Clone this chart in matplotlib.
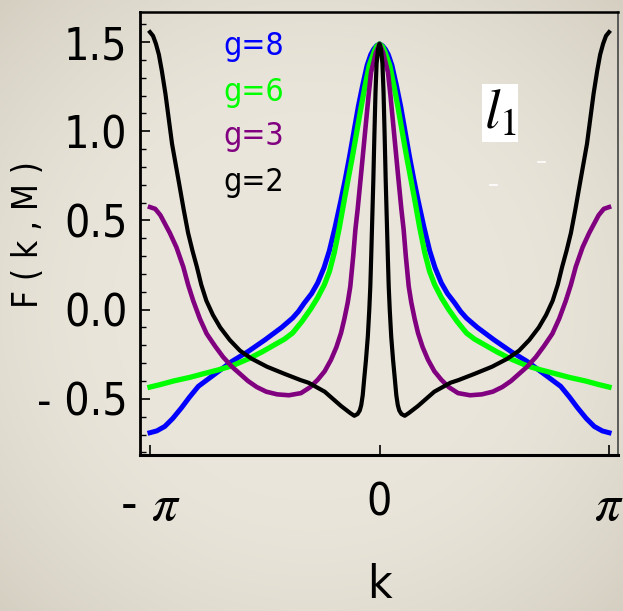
import matplotlib
matplotlib.use('Agg')
import matplotlib.pyplot as plt
import numpy as np
from matplotlib.ticker import MultipleLocator
from matplotlib.lines import Line2D

plt.rcParams['font.family'] = ['DejaVu Sans']
plt.rcParams['font.stretch'] = 'condensed'
plt.rcParams['mathtext.fontset'] = 'stix'

# F(k,M) curves, one per coupling g
k_g8 = [-3.1416, -3.05, -2.94, -2.83, -2.71, -2.60, -2.48, -2.25, -2.02, -1.80,
        -1.57, -1.34, -1.19, -1.11, -1.03, -0.93, -0.846, -0.76, -0.687, -0.61,
        -0.53, -0.47, -0.41, -0.35, -0.29, -0.23, -0.17, -0.12, -0.08, -0.04,
        0.0,
        0.04, 0.08, 0.12, 0.17, 0.23, 0.29, 0.35, 0.41, 0.47, 0.53,
        0.61, 0.687, 0.76, 0.846, 0.93, 1.03, 1.11, 1.19, 1.34, 1.57,
        1.80, 2.02, 2.25, 2.48, 2.60, 2.71, 2.83, 2.94, 3.05, 3.1416]
F_g8 = [-0.69, -0.68, -0.655, -0.61, -0.55, -0.49, -0.43, -0.36, -0.29, -0.235,
        -0.17, -0.10, -0.047, -0.01, 0.037, 0.09, 0.15, 0.235, 0.33, 0.46,
        0.61, 0.73, 0.86, 1.00, 1.14, 1.26, 1.37, 1.43, 1.46, 1.48,
        1.49,
        1.48, 1.46, 1.43, 1.37, 1.26, 1.14, 1.00, 0.86, 0.73, 0.61,
        0.46, 0.33, 0.235, 0.15, 0.09, 0.037, -0.01, -0.047, -0.10, -0.17,
        -0.235, -0.29, -0.36, -0.43, -0.49, -0.55, -0.61, -0.655, -0.68, -0.69]

k_g6 = [-3.1416, -3.00, -2.82, -2.60, -2.37, -2.20, -2.02, -1.79, -1.60, -1.45,
        -1.30, -1.19, -1.06, -0.94, -0.85, -0.755, -0.685, -0.62, -0.55, -0.48,
        -0.43, -0.37, -0.31, -0.25, -0.20, -0.14, -0.07, -0.04,
        0.0,
        0.04, 0.07, 0.14, 0.20, 0.25, 0.31, 0.37, 0.43, 0.48, 0.55,
        0.62, 0.685, 0.755, 0.85, 0.94, 1.06, 1.19, 1.30, 1.45, 1.60,
        1.79, 2.02, 2.20, 2.37, 2.60, 2.82, 3.00, 3.1416]
F_g6 = [-0.434, -0.42, -0.40, -0.38, -0.355, -0.337, -0.315, -0.275, -0.235, -0.20,
        -0.165, -0.131, -0.065, 0.005, 0.065, 0.14, 0.215, 0.318, 0.46, 0.62,
        0.73, 0.86, 1.00, 1.14, 1.25, 1.37, 1.45, 1.475,
        1.49,
        1.475, 1.45, 1.37, 1.25, 1.14, 1.00, 0.86, 0.73, 0.62, 0.46,
        0.318, 0.215, 0.14, 0.065, 0.005, -0.065, -0.131, -0.165, -0.20, -0.235,
        -0.275, -0.315, -0.337, -0.355, -0.38, -0.40, -0.42, -0.434]

k_g3 = [-3.1416, -3.07, -3.00, -2.87, -2.78, -2.686, -2.62, -2.55, -2.46, -2.366,
        -2.25, -2.14, -2.02, -1.91, -1.80, -1.68, -1.55, -1.40, -1.24, -1.075,
        -0.95, -0.846, -0.75, -0.664, -0.59, -0.527, -0.48, -0.435, -0.40, -0.36,
        -0.33, -0.30, -0.25, -0.185, -0.15, -0.116, -0.05,
        0.0,
        0.05, 0.116, 0.15, 0.185, 0.25, 0.30, 0.33, 0.36, 0.40, 0.435,
        0.48, 0.527, 0.59, 0.664, 0.75, 0.846, 0.95, 1.075, 1.24, 1.40,
        1.55, 1.68, 1.80, 1.91, 2.02, 2.14, 2.25, 2.366, 2.46, 2.55,
        2.62, 2.686, 2.78, 2.87, 3.00, 3.07, 3.1416]
F_g3 = [0.575, 0.565, 0.53, 0.43, 0.35, 0.24, 0.14, 0.05, -0.05, -0.135,
        -0.205, -0.266, -0.32, -0.36, -0.40, -0.434, -0.46, -0.475, -0.48, -0.468,
        -0.435, -0.393, -0.345, -0.281, -0.21, -0.131, -0.05, 0.04, 0.13, 0.30,
        0.45, 0.56, 0.77, 1.05, 1.20, 1.33, 1.44,
        1.49,
        1.44, 1.33, 1.20, 1.05, 0.77, 0.56, 0.45, 0.30, 0.13, 0.04,
        -0.05, -0.131, -0.21, -0.281, -0.345, -0.393, -0.435, -0.468, -0.48, -0.475,
        -0.46, -0.434, -0.40, -0.36, -0.32, -0.266, -0.205, -0.135, -0.05, 0.05,
        0.14, 0.24, 0.35, 0.43, 0.53, 0.565, 0.575]

k_g2 = [-3.1416, -3.10, -3.06, -3.02, -2.98, -2.93, -2.84, -2.74, -2.68, -2.62,
        -2.56, -2.50, -2.44, -2.37, -2.28, -2.18, -2.05, -1.91, -1.75, -1.54,
        -1.30, -1.08, -0.97, -0.75, -0.527, -0.40, -0.345, -0.30, -0.27, -0.25,
        -0.23, -0.21, -0.185, -0.16, -0.14, -0.126, -0.115, -0.10, -0.085, -0.07,
        -0.055, -0.04, -0.02,
        0.0,
        0.02, 0.04, 0.055, 0.07, 0.085, 0.10, 0.115, 0.126, 0.14, 0.16,
        0.185, 0.21, 0.23, 0.25, 0.27, 0.30, 0.345, 0.40, 0.527, 0.75,
        0.97, 1.08, 1.30, 1.54, 1.75, 1.91, 2.05, 2.18, 2.28, 2.37,
        2.44, 2.50, 2.56, 2.62, 2.68, 2.74, 2.84, 2.93, 2.98, 3.02,
        3.06, 3.10, 3.1416]
F_g2 = [1.556, 1.535, 1.49, 1.43, 1.34, 1.21, 0.93, 0.70, 0.56, 0.43,
        0.33, 0.24, 0.14, 0.05, -0.03, -0.10, -0.17, -0.23, -0.275, -0.32,
        -0.36, -0.395, -0.41, -0.46, -0.54, -0.58, -0.595, -0.585, -0.565, -0.535,
        -0.48, -0.39, -0.28, -0.15, 0.00, 0.13, 0.28, 0.50, 0.72, 0.98,
        1.22, 1.38, 1.46,
        1.49,
        1.46, 1.38, 1.22, 0.98, 0.72, 0.50, 0.28, 0.13, 0.00, -0.15,
        -0.28, -0.39, -0.48, -0.535, -0.565, -0.585, -0.595, -0.58, -0.54, -0.46,
        -0.41, -0.395, -0.36, -0.32, -0.275, -0.23, -0.17, -0.10, -0.03, 0.05,
        0.14, 0.24, 0.33, 0.43, 0.56, 0.70, 0.93, 1.21, 1.34, 1.43,
        1.49, 1.535, 1.556]

labels = ['g=8', 'g=6', 'g=3', 'g=2']
colors = ['#0000ff', '#00ff00', '#800080', '#000000']
widths = [3.6, 3.8, 3.3, 3.0]
yticks = [-0.5, 0.0, 0.5, 1.0, 1.5]
ytick_labels = ['- 0.5', '0.0', '0.5', '1.0', '1.5']
xticks = [-np.pi, 0, np.pi]
xtick_labels = [r'- $\pi$', '0', r'$\pi$']

fig = plt.figure(figsize=(6.23, 6.11), dpi=100, facecolor='#e7e3d8')

# paper-like backdrop, a little darker toward the corners
H, W = 611, 623
yy, xx = np.mgrid[0:H, 0:W]
r = np.sqrt(((xx - W / 2) / (W / 2)) ** 2 + ((yy - H / 2) / (H / 2)) ** 2) / np.sqrt(2)
shade = np.clip((r - 0.45) / 0.55, 0, 1) ** 1.5
center = np.array([233, 229, 218]) / 255
edge = np.array([212, 207, 193]) / 255
backdrop = center[None, None, :] * (1 - shade[..., None]) + edge[None, None, :] * shade[..., None]
fig.figimage(backdrop, xo=0, yo=0, zorder=-10)

ax = fig.add_axes([0.2247, 0.2553, 0.7673, 0.7251])
ax.set_zorder(1)
ax.patch.set_alpha(0)

series = [(k_g8, F_g8), (k_g6, F_g6), (k_g3, F_g3), (k_g2, F_g2)]
for (k, F), c, lw in zip(series, colors, widths):
    ax.plot(k, F, color=c, lw=lw, solid_joinstyle='round')

ax.set_xlim(-np.pi - 0.137, np.pi + 0.123)
ax.set_ylim(-0.815, 1.669)

ax.set_xticks(xticks)
ax.set_xticklabels(xtick_labels, fontsize=32)
for lab in ax.get_xticklabels():
    if 'pi' in lab.get_text():
        lab.set_fontsize(37)
ax.set_yticks(yticks)
ax.set_yticklabels(ytick_labels, fontsize=32)
ax.yaxis.set_minor_locator(MultipleLocator(0.1))
ax.tick_params(axis='both', which='major', direction='in', length=7, width=1.2)
ax.tick_params(axis='y', which='minor', direction='in', length=4, width=1.0)
ax.tick_params(axis='x', pad=19)
ax.tick_params(axis='y', pad=9)

ax.spines['left'].set_linewidth(2)
ax.spines['bottom'].set_linewidth(2.2)
ax.spines['top'].set_linewidth(1.8)
ax.spines['right'].set_linewidth(1.2)
ax.spines['right'].set_color('#444444')

# legend as coloured text
for i, (lab, c) in enumerate(zip(labels, colors)):
    fig.text(223 / 623, 1 - (47 + 45 * i) / 611, lab, color=c, fontsize=23,
             ha='left', va='center', zorder=5)

fig.text(500 / 623, 1 - 113 / 611, r'$l_1$', fontsize=40, ha='center', va='center',
         bbox=dict(facecolor='white', edgecolor='none', pad=1), zorder=5)

# small white specks next to the label
for x0, y0 in [(538, 162), (490, 185)]:
    fig.add_artist(Line2D([x0 / 623, (x0 + 7) / 623], [1 - y0 / 611, 1 - y0 / 611],
                          color='white', lw=1.2, transform=fig.transFigure, zorder=5))

fig.text(28 / 623, 1 - 235 / 611, 'F ( k , M )', rotation=90, fontsize=25,
         ha='center', va='center', zorder=5)
fig.text(379 / 623, 1 - 586 / 611, 'k', fontsize=34, ha='center', va='center', zorder=5)

fig.savefig('out.png', dpi=100)
